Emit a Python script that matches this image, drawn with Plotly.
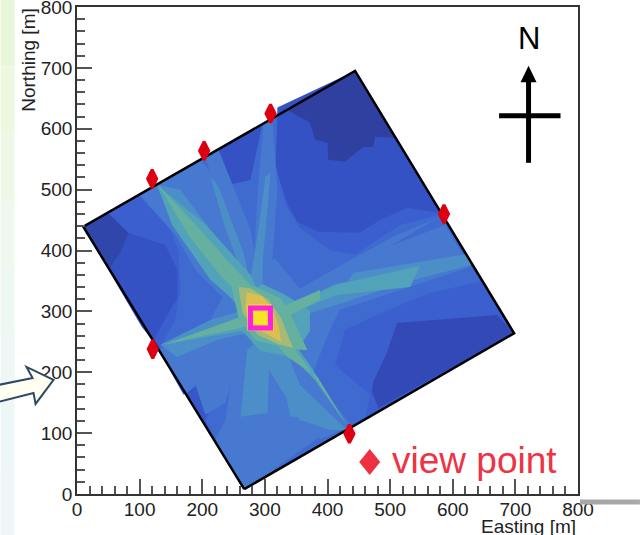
import plotly.graph_objects as go

# Level colours
level_colors = {
    "d0": "#2f40a0", "d0b": "#3046aa", "d0c": "#3349b6", "d1": "#3452c3", "d2": "#3757c8",
    "c1": "#3b5fcf", "c2": "#3f6bd1", "c3": "#4679cf", "c4": "#4c8fc8", "c5": "#52a2ba",
    "c6": "#66b0a0", "c7": "#a4ba76", "c8": "#dcbf50", "c9": "#eed03a", "c10": "#f6e428",
}

tick_values = [0, 100, 200, 300, 400, 500, 600, 700, 800]

site_east = [267, 698, 444, 10]
site_north = [8, 264, 695, 439]

view_east = [120, 203, 309, 586, 121, 435]
view_north = [518, 564, 625, 460, 238, 99]

source_east = [293]
source_north = [289]

region_levels = [
    "d1", "d1", "d1", "d0", "d0b", "d0c", "d2",
    "c2", "c3", "c3", "c3",
    "c3", "c3", "c3", "c3", "c3", "c3", "c3", "c3",
    "c4", "c4", "c4", "c4", "c4", "c4", "c4", "c4", "c4",
    "c5", "c5", "c5", "c5", "c5",
    "c6", "c6", "c6", "c6", "c6",
    "c7", "c8", "c9", "c10",
]
region_east = [
    [320, 317, 336, 352, 384, 452, 484, 527, 580, 444],
    [218, 296, 296, 277, 248, 229],
    [30, 82, 141, 160, 160, 138, 122, 103, 10],
    [336, 372, 380, 400, 401, 428, 457, 473, 476, 510, 444],
    [10, 49, 82, 69, 53],
    [511, 671, 698, 481, 471, 473, 495],
    [170, 202, 224, 210, 201],
    [98, 218, 242, 277, 296, 320, 317, 333, 356, 404, 444, 516, 580, 604, 644, 564, 516, 428, 412, 468, 460, 435, 267, 205, 229, 205, 170, 130, 157, 165, 162, 149],
    [267, 237, 285, 316],
    [261, 317, 356, 428, 404, 372, 317, 261, 197, 221],
    [133, 269, 237, 205, 189, 170],
    [100, 120, 197, 237, 293, 253, 189, 157],
    [298, 312, 320, 312, 296, 280, 288],
    [205, 226, 277, 296, 273, 237],
    [325, 431, 588, 600, 628, 407, 356],
    [436, 576, 505, 431],
    [313, 439, 388, 333, 285],
    [269, 309, 388, 293, 261, 221, 237, 253],
    [130, 269, 269, 173, 141],
    [128, 165, 245, 298, 266, 218, 165],
    [301, 309, 305, 297, 296, 273, 288],
    [213, 226, 266, 277, 261, 234],
    [325, 409, 553, 537, 404, 352],
    [441, 620, 630, 415],
    [313, 356, 431, 404, 356, 277],
    [272, 266, 261, 304, 309],
    [313, 341, 368, 329],
    [133, 213, 266, 272, 224, 160],
    [128, 205, 277, 296, 269, 213, 152],
    [325, 415, 548, 532, 415, 345],
    [265, 296, 333, 372, 372, 345, 293, 255],
    [325, 372, 431, 380, 317],
    [133, 261, 274, 181],
    [130, 189, 245, 290, 272, 232, 181],
    [320, 361, 431, 384, 336, 298],
    [141, 261, 272, 192],
    [317, 388, 388, 325],
    [244, 285, 325, 344, 368, 341, 285, 258],
    [258, 277, 305, 326, 345, 322, 289, 264],
    [271, 296, 312, 322, 326, 305, 277, 269],
    [272, 310, 315, 272],
    [282, 302, 305, 282],
]
region_north = [
    [635, 533, 478, 447, 431, 429, 450, 470, 462, 695],
    [562, 608, 533, 516, 500, 533],
    [450, 429, 409, 368, 322, 283, 250, 275, 439],
    [631, 610, 582, 577, 549, 546, 570, 570, 587, 585, 695],
    [439, 462, 429, 396, 373],
    [281, 294, 264, 141, 168, 184, 233],
    [171, 191, 174, 118, 118],
    [491, 562, 508, 516, 608, 622, 541, 475, 437, 401, 393, 442, 459, 418, 349, 330, 311, 270, 212, 163, 125, 108, 8, 122, 174, 187, 163, 237, 286, 335, 401, 434],
    [8, 64, 105, 38],
    [378, 386, 337, 320, 270, 187, 154, 203, 253, 302],
    [234, 261, 150, 130, 180, 197],
    [492, 504, 549, 500, 352, 302, 368, 426],
    [609, 617, 500, 385, 319, 335, 490],
    [554, 566, 434, 335, 327, 450],
    [319, 381, 442, 420, 373, 298, 286],
    [368, 454, 423, 381],
    [275, 112, 90, 187, 290],
    [270, 270, 94, 26, 15, 89, 122, 237],
    [237, 294, 261, 163, 224],
    [508, 500, 390, 324, 298, 352, 422],
    [521, 528, 478, 390, 330, 330, 422],
    [521, 505, 396, 347, 368, 446],
    [298, 344, 376, 352, 307, 291],
    [363, 394, 376, 319],
    [286, 179, 105, 105, 122, 253],
    [237, 182, 127, 133, 270],
    [258, 127, 127, 258],
    [245, 286, 302, 265, 253, 225],
    [507, 443, 360, 319, 302, 352, 442],
    [302, 344, 375, 340, 327, 298],
    [325, 345, 327, 302, 268, 225, 235, 278],
    [278, 212, 113, 187, 253],
    [245, 289, 270, 253],
    [507, 443, 378, 330, 316, 355, 421],
    [275, 220, 113, 192, 225, 270],
    [245, 291, 275, 258],
    [303, 335, 319, 286],
    [352, 340, 322, 289, 236, 238, 253, 289],
    [340, 338, 320, 289, 240, 246, 261, 298],
    [332, 325, 306, 276, 250, 262, 276, 303],
    [312, 312, 268, 268],
    [300, 298, 278, 280],
]

# Decoration colours for the page background strip (top to bottom)
strip_colors = ["#e9f7d9", "#ecf8e0", "#edf8e8", "#eef8ee", "#eef8f2", "#eef7f5", "#eef7f8", "#eef6fa"]

W, H = 640, 535
L, R, T, B = 76.5, 62, 7.3, 41
PW, PH = W - L - R, H - T - B


def px(p):
    return (p - L) / PW


def py(p):
    return 1 - (p - T) / PH


fig = go.Figure()

fig.add_trace(go.Scatter(x=site_east + site_east[:1], y=site_north + site_north[:1], mode="lines", fill="toself",
                         fillcolor=level_colors["c1"], line=dict(width=0), hoverinfo="skip", showlegend=False))
for lev, ex, no in zip(region_levels, region_east, region_north):
    fig.add_trace(go.Scatter(x=ex + ex[:1], y=no + no[:1], mode="lines", fill="toself",
                             fillcolor=level_colors[lev], line=dict(width=0), hoverinfo="skip", showlegend=False))
fig.add_trace(go.Scatter(x=site_east + site_east[:1], y=site_north + site_north[:1], mode="lines",
                         line=dict(color="black", width=2.5), hoverinfo="skip", showlegend=False))
fig.add_trace(go.Scatter(x=source_east, y=source_north, mode="markers",
                         marker=dict(symbol="square-open", size=20, color="#ff22dd", line=dict(color="#ff22dd", width=5)),
                         showlegend=False))
fig.add_trace(go.Scatter(x=view_east, y=view_north, mode="markers", cliponaxis=False,
                         marker=dict(symbol="diamond-tall", size=13, color="#dd0010", line=dict(color="#dd0010", width=3)),
                         showlegend=False))

shapes = []
n = len(strip_colors)
for i, c in enumerate(strip_colors):
    shapes.append(dict(type="rect", xref="paper", yref="paper", layer="below", line=dict(width=0), fillcolor=c,
                       x0=px(0), x1=px(14), y0=py(H * (i + 1) / n), y1=py(H * i / n)))
shapes.append(dict(type="rect", xref="paper", yref="paper", line=dict(width=0), fillcolor="#a8a8a8",
                   x0=px(580), x1=px(640), y0=py(504.5), y1=py(499.5)))
# Hand-drawn arrow at left
arrow = [(-2, 385), (32, 378), (26, 367), (53, 380), (35, 404), (33, 393), (-2, 402)]
shapes.append(dict(type="path", xref="paper", yref="paper", fillcolor="#fffff2", line=dict(color="#2e4a62", width=2),
                   path="M " + " L ".join(f"{px(a):.5f},{py(b):.5f}" for a, b in arrow) + " Z"))
# Legend key diamond
key = [(369.5, 449), (380, 462), (369.5, 475), (359, 462)]
shapes.append(dict(type="path", xref="paper", yref="paper", fillcolor="#ee3040", line=dict(width=0),
                   path="M " + " L ".join(f"{px(a):.5f},{py(b):.5f}" for a, b in key) + " Z"))
# North compass
shapes.append(dict(type="line", xref="paper", yref="paper", line=dict(color="black", width=5),
                   x0=px(528.5), x1=px(528.5), y0=py(163), y1=py(80)))
shapes.append(dict(type="line", xref="paper", yref="paper", line=dict(color="black", width=5),
                   x0=px(499), x1=px(560.5), y0=py(116), y1=py(116)))
shapes.append(dict(type="path", xref="paper", yref="paper", fillcolor="black", line=dict(width=0),
                   path=f"M {px(528.5):.5f},{py(66):.5f} L {px(536.5):.5f},{py(82.5):.5f} L {px(520.5):.5f},{py(82.5):.5f} Z"))

FONT = "Liberation Sans"
annotations = [
    dict(text="N", xref="paper", yref="paper", x=px(529), y=py(39), showarrow=False,
         font=dict(family=FONT, size=31, color="black"), xanchor="center", yanchor="middle"),
    dict(text="view point", xref="paper", yref="paper", x=px(390), y=py(461), showarrow=False,
         font=dict(family=FONT, size=37, color="#ee3344"), xanchor="left", yanchor="middle"),
    dict(text="Easting [m]", xref="paper", yref="paper", x=px(578), y=py(526), showarrow=False,
         font=dict(family=FONT, size=19, color="#222"), xanchor="right", yanchor="middle"),
    dict(text="Northing [m]", xref="paper", yref="paper", x=px(28), y=py(7), showarrow=False, textangle=-90,
         font=dict(family=FONT, size=19, color="#222"), xanchor="center", yanchor="top"),
]

axis = dict(range=[0, 800], tickvals=tick_values, ticks="inside", ticklen=15, tickwidth=1.5, tickcolor="#555",
            minor=dict(dtick=20, ticks="inside", ticklen=8, tickwidth=1.5, tickcolor="#555"),
            showline=True, linecolor="#333", linewidth=1.5, mirror=True, showgrid=False, zeroline=False,
            ticklabeloverflow="allow",
            tickfont=dict(family=FONT, size=19, color="#222"))

fig.update_layout(width=W, height=H, margin=dict(l=L, r=R, t=T, b=B, pad=0, autoexpand=False),
                  paper_bgcolor="white", plot_bgcolor="white", showlegend=False,
                  xaxis=dict(axis, ticklabelstandoff=-3), yaxis=dict(axis, ticklabelstandoff=-1),
                  shapes=shapes, annotations=annotations)
fig.write_html("out.html", config={"displayModeBar": False},
               post_script="document.body.style.margin='0';document.documentElement.style.overflow='hidden';")
